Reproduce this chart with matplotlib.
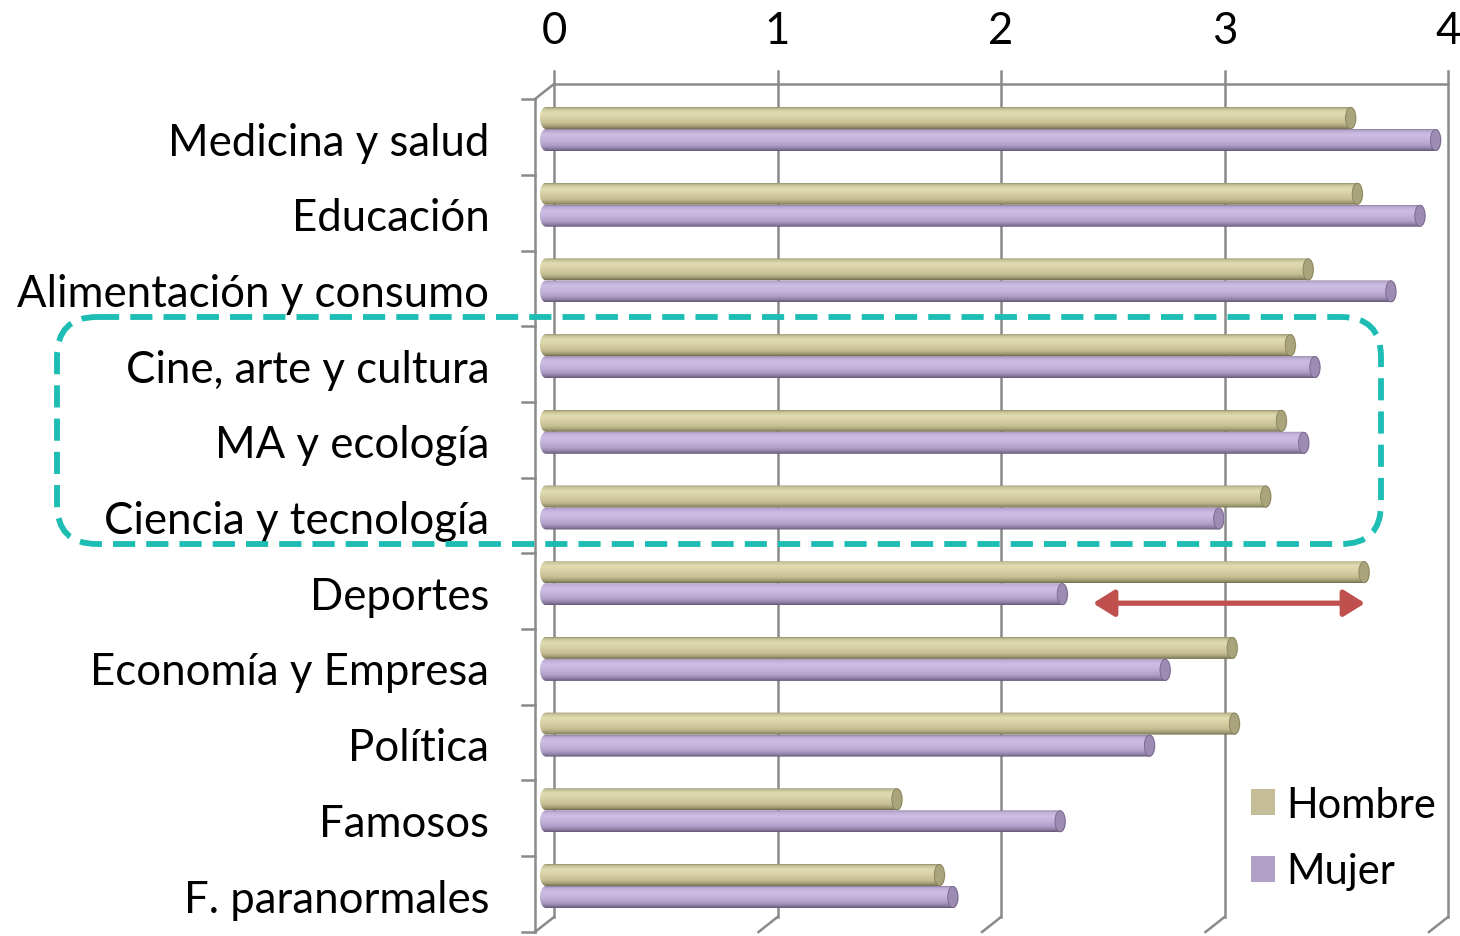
import matplotlib
matplotlib.use('Agg')
import matplotlib.pyplot as plt
import numpy as np
from matplotlib.colors import LinearSegmentedColormap
from matplotlib.patches import Ellipse, FancyArrowPatch, FancyBboxPatch, PathPatch, Patch
from matplotlib.path import Path

plt.rcParams['font.family'] = ['Lato', 'DejaVu Sans']

categories = ['Medicina y salud', 'Educación', 'Alimentación y consumo',
              'Cine, arte y cultura', 'MA y ecología', 'Ciencia y tecnología',
              'Deportes', 'Economía y Empresa', 'Política', 'Famosos',
              'F. paranormales']
hombre = [3.60, 3.63, 3.41, 3.33, 3.29, 3.22, 3.66, 3.07, 3.08, 1.57, 1.76]
mujer = [3.98, 3.91, 3.78, 3.44, 3.39, 3.01, 2.31, 2.77, 2.70, 2.30, 1.82]
xticks = [0, 1, 2, 3, 4]

# scale of the picture: pixels per data unit
PX_X, PX_Y = 223.5, 75.7
W, H = 1460, 937
FS = 31.5

tan_stops = [(150, 146, 112), (200, 194, 152), (226, 220, 178), (214, 207, 164),
             (196, 189, 146), (160, 154, 115), (115, 110, 80)]
lil_stops = [(145, 132, 165), (188, 172, 212), (206, 190, 228), (196, 179, 219),
             (176, 158, 200), (140, 124, 162), (100, 88, 118)]
stop_pos = [0, 0.08, 0.25, 0.5, 0.75, 0.9, 1.0]


def make_grad(stops):
    cols = [tuple(c / 255 for c in s) for s in stops]
    cm = LinearSegmentedColormap.from_list('g', list(zip(stop_pos, cols)))
    return cm(np.linspace(0, 1, 64))[:, None, :3]


GRAD_H = make_grad(tan_stops)
GRAD_M = make_grad(lil_stops)


def cylinder(ax, y, length, h, grad, cap_fc, cap_ec):
    rx = 6 / PX_X
    t = np.linspace(-np.pi / 2, np.pi / 2, 30)
    right = np.column_stack([length + rx * np.cos(t), y + h / 2 * np.sin(t)])
    t2 = np.linspace(np.pi / 2, 3 * np.pi / 2, 30)
    left = np.column_stack([rx * np.cos(t2), y + h / 2 * np.sin(t2)])
    verts = np.vstack([right, left, right[:1]])
    codes = [Path.MOVETO] + [Path.LINETO] * (len(verts) - 2) + [Path.CLOSEPOLY]
    clip = PathPatch(Path(verts, codes), facecolor='none', edgecolor='none')
    ax.add_patch(clip)
    im = ax.imshow(grad, extent=(-rx, length + rx, y + h / 2, y - h / 2),
                   aspect='auto', interpolation='bilinear', zorder=3)
    im.set_clip_path(clip)
    ax.add_patch(Ellipse((length, y), 1.7 * rx, h * 0.96, facecolor=cap_fc,
                         edgecolor=cap_ec, lw=0.6, zorder=4))


fig = plt.figure(figsize=(W / 100, H / 100), dpi=100)
ax = fig.add_axes([520 / W, 0, 940 / W, (H - 60) / H])
for s in ax.spines.values():
    s.set_visible(False)
ax.patch.set_visible(False)

n = len(categories)
ypos = np.arange(n)

# 3D frame
back = 8 / PX_X
dx, dy = -19 / PX_X, 15 / PX_Y
y_top, y_bot = (85 - 130) / PX_Y, (918 - 130) / PX_Y
y_tick = (72 - 130) / PX_Y
gc = '#8a8a8a'
for v in xticks:
    xb = v + back
    ax.plot([xb, xb], [y_tick, y_bot], color=gc, lw=1.8, zorder=1)
    ax.plot([xb, xb + dx], [y_bot, y_bot + dy], color=gc, lw=1.8, zorder=1)
ax.plot([back, xticks[-1] + back], [y_top, y_top], color=gc, lw=1.8, zorder=1)
ax.plot([back, back + dx], [y_top, y_top + dy], color=gc, lw=1.8, zorder=1)
xf = back + dx
bounds = np.arange(n + 1) - 0.5 + 8 / PX_Y
ax.plot([xf, xf], [bounds[0], bounds[-1]], color=gc, lw=1.8, zorder=1)
for b in bounds:
    ax.plot([xf - 13 / PX_X, xf], [b, b], color=gc, lw=1.8, zorder=1)

# bars
off = 11 / PX_Y
hh = 22 / PX_Y
for i in range(n):
    cylinder(ax, ypos[i] - off, hombre[i], hh, GRAD_H, '#aaa47c', '#85805c')
    cylinder(ax, ypos[i] + off, mujer[i], hh, GRAD_M, '#9d8bb3', '#756688')

# axes labels
ax.xaxis.tick_top()
ax.set_xticks([v + back for v in xticks], [str(v) for v in xticks], fontsize=FS)
ax.tick_params(axis='x', length=0, pad=6)
ax.set_yticks(ypos + 0.12, categories, fontsize=FS)
ax.tick_params(axis='y', length=0, pad=22)
ax.set_xlim(-26 / PX_X, 914 / PX_X)
ax.set_ylim((H - 130) / PX_Y, (60 - 130) / PX_Y)

# highlight box
bx0, bx1 = (57 - 546) / PX_X, (1381 - 546) / PX_X
by0, by1 = (318 - 130) / PX_Y, (545 - 130) / PX_Y
box = FancyBboxPatch((bx0, by0), bx1 - bx0, by1 - by0,
                     boxstyle='round,pad=0,rounding_size=%f' % (40 / PX_X),
                     mutation_aspect=PX_X / PX_Y, fill=False, edgecolor='#1dbdb3',
                     lw=4.2, linestyle=(0, (3.8, 1.9)), clip_on=False, zorder=6)
ax.add_patch(box)

# gap arrow on Deportes
ya = ypos[6] + 20 / PX_Y
arr = FancyArrowPatch(((1093 - 546) / PX_X, ya), ((1365 - 546) / PX_X, ya),
                      arrowstyle='<|-|>,head_length=0.8,head_width=0.5',
                      mutation_scale=16, color='#c0504d', lw=3.8, zorder=6,
                      shrinkA=0, shrinkB=0)
ax.add_patch(arr)

handles = [Patch(facecolor='#c4bd97', label='Hombre'),
           Patch(facecolor='#b2a1c7', label='Mujer')]
fig.legend(handles=handles, loc='upper left', bbox_to_anchor=(1251 / W, 1 - 787 / H),
           frameon=False, fontsize=30, handlelength=0.58, handleheight=0.58,
           handletextpad=0.27, labelspacing=0.68, borderpad=0, borderaxespad=0)

fig.savefig('out.png', dpi=100)
